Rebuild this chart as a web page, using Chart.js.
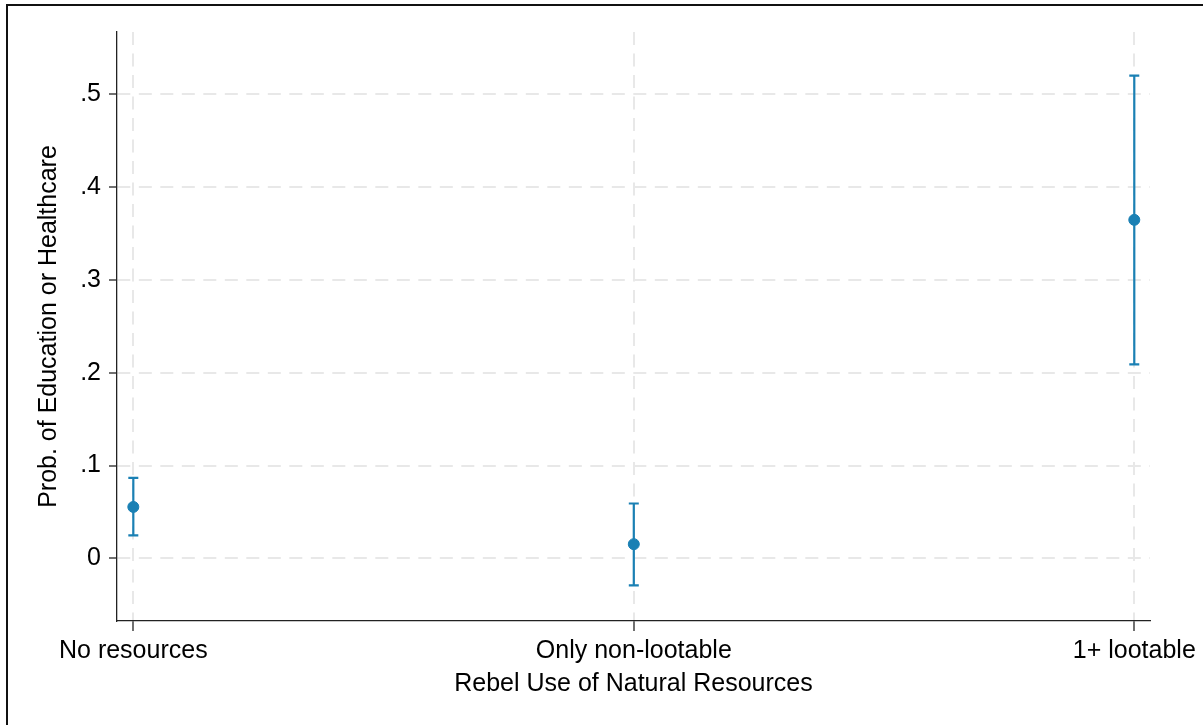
<!DOCTYPE html>
<html>
<head>
<meta charset="utf-8">
<script src="https://cdn.jsdelivr.net/npm/chart.js@4"></script>
<style>
    body { margin: 0; background: #fff; }
    .wrap { position: relative; width: 1203px; height: 725px; overflow: hidden; }
    .frame { position: absolute; left: 6px; top: 4px; right: 0; bottom: 0; border-left: 2px solid #111; border-top: 2px solid #111; pointer-events: none; }
</style>
</head>
<body>
<div class="wrap">
    <canvas id="marginsChart" width="1203" height="725"></canvas>
    <div class="frame"></div>
</div>
<script>
// categories on the x axis
const categories = ['No resources', 'Only non-lootable', '1+ lootable']
// predicted probability and 95% CI
const estimates = [0.0555, 0.0154, 0.3645]
const ciLower = [0.0248, -0.0290, 0.2090]
const ciUpper = [0.0868, 0.0592, 0.5197]
// y ticks
const yTickValues = [0, 0.1, 0.2, 0.3, 0.4, 0.5]
const yTickLabels = ['0', '.1', '.2', '.3', '.4', '.5']

const blue = '#1a80b4'
const fontFamily = '"Liberation Sans", Arial, sans-serif'

// Start error bar plugin
const errorBars = {
    id: 'errorBars',
    beforeDatasetsDraw(chart) {
        const ctx = chart.ctx
        const xs = chart.scales.x
        const ys = chart.scales.y
        ctx.save()
        ctx.strokeStyle = blue
        ctx.lineWidth = 2.2
        categories.forEach((c, i) => {
            let x = xs.getPixelForValue(i)
            let top = ys.getPixelForValue(ciUpper[i])
            let bot = ys.getPixelForValue(ciLower[i])
            ctx.beginPath()
            ctx.moveTo(x, top)
            ctx.lineTo(x, bot)
            ctx.moveTo(x - 5, top)
            ctx.lineTo(x + 5, top)
            ctx.moveTo(x - 5, bot)
            ctx.lineTo(x + 5, bot)
            ctx.stroke()
        })
        ctx.restore()
    }
}
// End error bar plugin

const chartEl = document.getElementById('marginsChart')
const marginsChart = new Chart(chartEl, {
    type: 'scatter',
    data: {
        datasets: [{
            data: estimates.map((v, i) => ({ x: i, y: v })),
            backgroundColor: blue,
            borderColor: blue,
            pointRadius: 5.5,
            pointHoverRadius: 5.5
        }]
    },
    options: {
        responsive: false,
        animation: false,
        layout: { padding: { top: 32, right: 53, left: 0, bottom: 0 } },
        plugins: {
            legend: { display: false },
            tooltip: { enabled: false }
        },
        scales: {
            x: {
                type: 'linear',
                min: -0.0326,
                max: 2.0314,
                afterBuildTicks: (scale) => { scale.ticks = categories.map((c, i) => ({ value: i })) },
                afterFit: (scale) => { scale.height = 104 },
                ticks: {
                    callback: (v) => categories[v],
                    color: '#000',
                    padding: 5,
                    maxRotation: 0,
                    font: { family: fontFamily, size: 25 }
                },
                grid: {
                    color: '#e8e8e8',
                    lineWidth: 2,
                    tickColor: '#222',
                    tickWidth: 1.3,
                    tickLength: 10
                },
                border: { color: '#222', width: 1.3, dash: [13, 8.5] },
                title: {
                    display: true,
                    text: 'Rebel Use of Natural Resources',
                    color: '#000',
                    padding: { top: 0, bottom: 26 },
                    font: { family: fontFamily, size: 25 }
                }
            },
            y: {
                min: -0.0673,
                max: 0.5667,
                afterBuildTicks: (scale) => { scale.ticks = yTickValues.map(v => ({ value: v })) },
                afterFit: (scale) => { scale.width = 117 },
                ticks: {
                    callback: (v) => yTickLabels[yTickValues.indexOf(v)],
                    color: '#000',
                    padding: 8,
                    font: { family: fontFamily, size: 25 }
                },
                grid: {
                    color: '#e8e8e8',
                    lineWidth: 2,
                    tickColor: '#222',
                    tickWidth: 1.3,
                    tickLength: 8
                },
                border: { color: '#222', width: 1.3, dash: [13, 8.5] },
                title: {
                    display: true,
                    text: 'Prob. of Education or Healthcare',
                    color: '#000',
                    padding: { top: 34.5, bottom: 0 },
                    font: { family: fontFamily, size: 25 }
                }
            }
        }
    },
    plugins: [errorBars]
});
</script>
</body>
</html>
